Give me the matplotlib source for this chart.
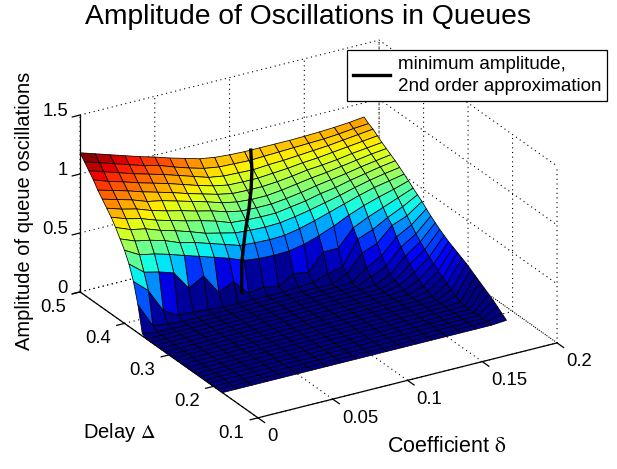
import numpy as np
import matplotlib
matplotlib.use("Agg")
import matplotlib.pyplot as plt
from mpl_toolkits.mplot3d import proj3d

plt.rcParams['font.family'] = ['Liberation Sans', 'DejaVu Sans']
plt.rcParams['mathtext.fontset'] = 'stix'

# Grid of the surface
delta_values = [0.00, 0.01, 0.02, 0.03, 0.04, 0.05, 0.06, 0.07, 0.08, 0.09,
                0.10, 0.11, 0.12, 0.13, 0.14, 0.15, 0.16, 0.17, 0.18, 0.19]
delay_values = [0.50, 0.49, 0.48, 0.47, 0.46, 0.45, 0.44, 0.43, 0.42, 0.41, 0.40,
                0.39, 0.38, 0.37, 0.36, 0.35, 0.34, 0.33, 0.32, 0.31, 0.30,
                0.29, 0.28, 0.27, 0.26, 0.25, 0.24, 0.23, 0.22, 0.21, 0.20, 0.19, 0.18]

# Amplitude per coefficient, from delay 0.50 downwards; zero once a list ends
amp_d00 = [1.18, 1.13, 1.08, 1.03, .97, .92, .87, .82, .76, .69, .62, .53, .41, .24, .02]
amp_d01 = [1.14, 1.09, 1.04, .985, .935, .885, .83, .775, .71, .64, .55, .43, .30, .03]
amp_d02 = [1.10, 1.05, 1.00, .95, .90, .85, .80, .745, .685, .615, .525, .40, .10, .01]
amp_d03 = [1.06, 1.01, .96, .91, .86, .805, .755, .70, .64, .58, .49, .36, .03]
amp_d04 = [1.02, .97, .925, .875, .825, .78, .72, .665, .605, .53, .45, .20, .02]
amp_d05 = [.985, .94, .89, .84, .79, .745, .69, .63, .565, .50, .41, .27, .01]
amp_d06 = [.945, .895, .85, .80, .75, .71, .655, .60, .52, .46, .37, .10]
amp_d07 = [.91, .855, .81, .76, .715, .675, .625, .565, .49, .42, .33, .16]
amp_d08 = [.875, .82, .77, .725, .68, .635, .585, .52, .46, .38, .28, .03]
amp_d09 = [.855, .80, .75, .70, .655, .61, .56, .51, .45, .37, .265, .05]
amp_d10 = [.845, .795, .745, .695, .65, .60, .555, .505, .445, .365, .26, .02]
amp_d11 = [.84, .79, .74, .695, .65, .60, .555, .505, .45, .37, .265, .10, .01]
amp_d12 = [.84, .795, .75, .705, .66, .615, .57, .525, .47, .395, .29, .08, .02]
amp_d13 = [.84, .80, .755, .715, .675, .635, .59, .545, .495, .43, .33, .22, .06]
amp_d14 = [.84, .805, .765, .73, .695, .655, .615, .575, .525, .47, .38, .22, .09, .06, .01]
amp_d15 = [.843, .81, .775, .74, .705, .67, .635, .595, .555, .51, .44, .36, .29, .20,
           .10, .05, .01]
amp_d16 = [.848, .815, .785, .755, .72, .69, .655, .625, .59, .55, .49, .42, .34, .25,
           .17, .11, .07, .04, .03, .01]
amp_d17 = [.855, .825, .80, .77, .74, .71, .68, .65, .62, .585, .53, .47, .41, .37, .30,
           .24, .19, .145, .105, .07, .045, .025, .01]
amp_d18 = [.865, .84, .815, .785, .755, .73, .70, .675, .645, .61, .565, .52, .47, .42,
           .37, .32, .28, .24, .205, .17, .14, .11, .085, .06, .035, .01]
amp_d19 = [.88, .85, .83, .80, .77, .745, .72, .695, .665, .635, .605, .57, .54, .51,
           .475, .44, .41, .38, .355, .33, .31, .29, .27, .25, .225, .20, .175, .15,
           .125, .10, .07, .04, .01]

# Minimum-amplitude curve lying on the surface
min_delta = [0.1142, 0.109, 0.1025, 0.095, 0.0866, 0.0784, 0.0754]
min_delay = [0.50, 0.48, 0.46, 0.44, 0.42, 0.40, 0.39]
min_amp = [0.84, 0.74, 0.645, 0.55, 0.44, 0.264, 0.05]

delta_ticks = [0, 0.05, 0.1, 0.15, 0.2]
delta_tick_labels = ['0', '0.05', '0.1', '0.15', '0.2']
delay_ticks = [0.1, 0.2, 0.3, 0.4, 0.5]
delay_tick_labels = ['0.1', '0.2', '0.3', '0.4', '0.5']
amp_ticks = [0, 0.5, 1, 1.5]
amp_tick_labels = ['0', '0.5', '1', '1.5']
color_limit = 1.14

columns = [amp_d00, amp_d01, amp_d02, amp_d03, amp_d04, amp_d05, amp_d06, amp_d07,
           amp_d08, amp_d09, amp_d10, amp_d11, amp_d12, amp_d13, amp_d14, amp_d15,
           amp_d16, amp_d17, amp_d18, amp_d19]
Z = np.zeros((len(delay_values), len(delta_values)))
for j, col in enumerate(columns):
    Z[:len(col), j] = col
X, Y = np.meshgrid(delta_values, delay_values)

fig = plt.figure(figsize=(6.17, 4.69), dpi=100, facecolor='white')
ax = fig.add_axes([3.7 / 617, -0.8 / 469, 1, 1], projection='3d',
                  proj_type='ortho', computed_zorder=False)
ax.set_xlim(0, 0.2, view_margin=0)
ax.set_ylim(0.1, 0.5, view_margin=0)
ax.set_zlim(0, 1.5, view_margin=0)
ax.view_init(elev=24.9, azim=-120.76)
ax.set_box_aspect((348, 348, 195), zoom=1.0958)
ax.set_axis_off()

# Dotted grid on the floor and the two back walls
grid_style = dict(color='k', lw=0.8, ls=(0, (1, 3.2)), zorder=1, clip_on=False)
for d in delta_ticks:
    ax.plot([d, d, d], [0.1, 0.5, 0.5], [0, 0, 1.5], **grid_style)
for t in delay_ticks:
    ax.plot([0, 0.2, 0.2], [t, t, t], [0, 0, 1.5], **grid_style)
for h in amp_ticks:
    ax.plot([0, 0.2, 0.2], [0.5, 0.5, 0.1], [h, h, h], **grid_style)

# Solid axes with outward ticks
axis_style = dict(color='k', lw=0.9, zorder=1.5, clip_on=False)
ax.plot([0, 0.2], [0.1, 0.1], [0, 0], **axis_style)
ax.plot([0, 0], [0.1, 0.5], [0, 0], **axis_style)
ax.plot([0, 0], [0.5, 0.5], [0, 1.5], **axis_style)
for d in delta_ticks:
    ax.plot([d, d], [0.1, 0.0853], [0, 0], **axis_style)
for t in delay_ticks:
    ax.plot([0, -0.0052], [t, t], [0, 0], **axis_style)
for h in amp_ticks:
    ax.plot([0, -0.0052], [0.5, 0.5], [h, h], **axis_style)

# Faceted surface: each cell takes the jet colour of its lower-delay corner
corner_values = np.vstack([Z[1:], Z[-1:]])
colors = plt.get_cmap('jet')(np.clip(corner_values / color_limit, 0, 1))
ax.plot_surface(X, Y, Z, rstride=1, cstride=1, facecolors=colors, shade=False,
                edgecolor='k', linewidth=0.55, zorder=2, clip_on=False)

min_line, = ax.plot(min_delta, min_delay, min_amp, color='k', lw=2.4, zorder=3,
                    clip_on=False, label='minimum amplitude,\n2nd order approximation')

# Tick labels, placed by pixel offset from each projected tick position
projection = ax.get_proj()

def tick_label(x, y, z, text, dx, dy, ha):
    px2d, py2d, _ = proj3d.proj_transform(x, y, z, projection)
    ax.annotate(text, xy=(px2d, py2d), xycoords='data', xytext=(dx, dy),
                textcoords='offset pixels', ha=ha, va='center', fontsize=13.3,
                annotation_clip=False)

for d, s in zip(delta_ticks, delta_tick_labels):
    tick_label(d, 0.1, 0, s, 9, -19, 'left')
for t, s in zip(delay_ticks, delay_tick_labels):
    tick_label(0, t, 0, s, -14, -15.5, 'right')
for h, s in zip(amp_ticks, amp_tick_labels):
    tick_label(0, 0.5, h, s, -12, 3.5, 'right')

def px(x, y):
    return x / 617, 1 - y / 469

fig.text(*px(308, 17), 'Amplitude of Oscillations in Queues', ha='center', va='center',
         fontsize=20.3)
fig.text(*px(25, 211), 'Amplitude of queue oscillations', rotation=90, ha='center',
         va='center', fontsize=14.5)
fig.text(*px(119, 433), r'Delay $\mathrm{\Delta}$', ha='center', va='center', fontsize=14.5)
fig.text(*px(447, 446), r'Coefficient $\mathrm{\delta}$', ha='center', va='center', fontsize=15.5)

legend = fig.legend(handles=[min_line], loc='upper left',
                    bbox_to_anchor=(347 / 617, 1 - 50 / 469), fontsize=13.6,
                    frameon=True, fancybox=False, framealpha=1, edgecolor='k',
                    borderpad=0.3, handlelength=2.0, handletextpad=0.38,
                    borderaxespad=0, labelspacing=0.2)
legend.get_texts()[0].set_linespacing(1.42)
legend.get_frame().set_linewidth(0.9)

fig.savefig('out.png', dpi=100, facecolor='white')
